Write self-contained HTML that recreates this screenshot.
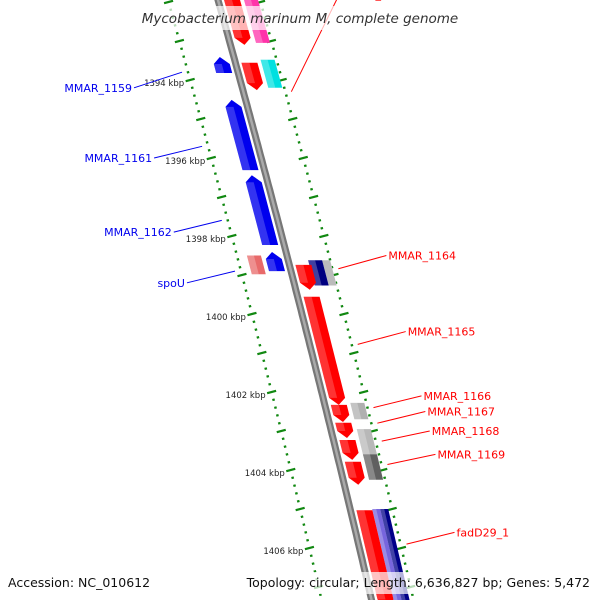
<!DOCTYPE html>
<html><head><meta charset="utf-8">
<style>
html,body{margin:0;padding:0;background:#fff;}
svg{display:block;font-family:"DejaVu Sans","Liberation Sans",sans-serif;}
</style></head>
<body>
<svg id="map" width="600" height="600" viewBox="0 0 600 600" xmlns="http://www.w3.org/2000/svg">
<g id="ticks"></g>
<g id="genes"></g>
<g id="backbone"></g>
<g id="labels"></g>
<rect x="130" y="6" width="340" height="24" fill="#fff" fill-opacity="0.7"/>
<text x="300" y="23" text-anchor="middle" font-size="13.5" font-style="italic" fill="#333">Mycobacterium marinum M, complete genome</text>
<rect x="0" y="572" width="600" height="22" fill="#fff" fill-opacity="0.7"/>
<text x="8" y="587" font-size="12.5" fill="#111">Accession: NC_010612</text>
<text x="590" y="587" text-anchor="end" font-size="12.5" fill="#111">Topology: circular; Length: 6,636,827 bp; Genes: 5,472</text>
</svg>
<script>
// data
const geneStarts = [1391.9, 1393.41, 1393.56, 1394.51, 1396.44, 1398.41, 1398.74, 1399.56, 1402.33, 1402.79, 1403.23, 1403.79, 1405.03];
const geneEnds   = [1393.10, 1393.82, 1394.26, 1396.31, 1398.23, 1398.90, 1399.38, 1402.33, 1402.77, 1403.18, 1403.74, 1404.38, 1407.5];
const geneStrands= [1, -1, 1, -1, -1, -1, 1, 1, 1, 1, 1, 1, 1];
const boxStarts  = [1391.9, 1393.48, 1398.50, 1398.62, 1402.28, 1402.95, 1403.6, 1405.0, 1405.0];
const boxEnds    = [1393.05, 1394.2, 1398.98, 1399.27, 1402.7, 1403.65, 1404.25, 1407.5, 1407.5];
const boxSides   = [1, 1, -1, 1, 1, 1, 1, 1, 1];
const boxColors  = ["#ff33aa", "#00e0e0", "#e86a6a", "#000080", "#b0b0b0", "#b8b8b8", "#606060", "#7766dd", "#000088"];
const tickLabelKbp = [1394, 1396, 1398, 1400, 1402, 1404, 1406];
const labelNames = ["MMAR_1159","MMAR_1161","MMAR_1162","spoU","MMAR_1160","MMAR_1164","MMAR_1165","MMAR_1166","MMAR_1167","MMAR_1168","MMAR_1169","fadD29_1"];
const labelSides = [-1,-1,-1,-1,1,1,1,1,1,1,1,1];
const labelTextKbp = [1394.2, 1396.0, 1397.9, 1399.2, 1391.8, 1398.5, 1400.45, 1402.1, 1402.5, 1403.0, 1403.6, 1405.6];
const labelFeatKbp = [1393.8, 1395.7, 1397.6, 1398.9, 1394.3, 1398.84, 1400.78, 1402.4, 1402.8, 1403.26, 1403.86, 1405.9];

const NS="http://www.w3.org/2000/svg";
function yOf(k){return 80+(k-1394)*39;}
function xOf(y){return 218+0.28*y-0.00004*y*y;}
function mk(tag,attrs,parent){const e=document.createElementNS(NS,tag);for(const a in attrs)e.setAttribute(a,attrs[a]);parent.appendChild(e);return e;}
function quad(k1,k2,o1,o2){const y1=yOf(k1),y2=yOf(k2);return [[xOf(y1)+o1,y1],[xOf(y1)+o2,y1],[xOf(y2)+o2,y2],[xOf(y2)+o1,y2]];}
function pts(a){return a.map(p=>p[0].toFixed(1)+","+p[1].toFixed(1)).join(" ");}

const tg=document.getElementById('ticks');
for(let k=1391.8;k<=1407.6;k+=0.2){
  const kr=Math.round(k*5)/5;
  const major=Math.abs(kr-Math.round(kr))<0.01;
  [[-50,-1],[42,1]].forEach(([off,s])=>{
    const y=yOf(kr),x=xOf(y)+off;
    const l=major?4.5:1.2;
    const t=mk('line',{x1:x-l,y1:y+l*0.27,x2:x+l,y2:y-l*0.27,stroke:'#118811','stroke-width':2.2},tg);
    
    
  });
}
tickLabelKbp.forEach(k=>{
  const y=yOf(k),x=xOf(y)-56;
  const t=mk('text',{x:x,y:y+6,'text-anchor':'end','font-size':8.5,fill:'#222'},tg);
  
  
  t.textContent=k+' kbp';
});

const gg=document.getElementById('genes');
boxStarts.forEach((s,i)=>{
  const side=boxSides[i];
  let o1=side>0?26:-40,o2=side>0?40:-26;
  if(i===3){o1=20;o2=34;} if(i===7){o1=22;o2=30;} if(i===8){o1=30;o2=38;}
  if(i===3){const g=mk('polygon',{points:pts(quad(s,boxEnds[i],34,42)),fill:'#bbbbbb'},gg);}
  const p=mk('polygon',{points:pts(quad(s,boxEnds[i],o1,o2)),fill:boxColors[i]},gg);
  
  
  const h=mk('polygon',{points:pts(quad(s,boxEnds[i],o1,(o1+o2)/2)),fill:'#fff','fill-opacity':0.25},gg);
  
  
});
geneStarts.forEach((s,i)=>{
  const e=geneEnds[i],st=geneStrands[i];
  const o1=st>0?6:-22,o2=st>0?22:-6;
  const col=st>0?'#ff0000':'#0000ee';
  const ah=7;
  let poly;
  if(st>0){
    const q=quad(s,e-ah/39,o1,o2);const yt=yOf(e);
    poly=[q[0],q[1],q[2],[xOf(yt)+(o1+o2)/2,yt],q[3]];
  } else {
    const q=quad(s+ah/39,e,o1,o2);const yt=yOf(s);
    poly=[q[0],[xOf(yt)+(o1+o2)/2,yt],q[1],q[2],q[3]];
  }
  const p=mk('polygon',{points:pts(poly),fill:col},gg);
  
  
  const h=mk('polygon',{points:pts(quad(st>0?s:s+ah/39,st>0?e-ah/39:e,o1,(o1+o2)/2)),fill:'#fff','fill-opacity':0.2},gg);
  
  
});

const bb=document.getElementById('backbone');
let d='';for(let y=-5;y<=605;y+=5){d+=(y===-5?'M':'L')+xOf(y).toFixed(1)+','+y;}
const b1=mk('path',{d:d,stroke:'#777',fill:'none','stroke-width':7},bb);


const b2=mk('path',{d:d,stroke:'#aaa',fill:'none','stroke-width':2.5},bb);



const lg=document.getElementById('labels');
labelNames.forEach((n,i)=>{
  const side=labelSides[i];
  const yf=yOf(labelFeatKbp[i]),yt=yOf(labelTextKbp[i]);
  const xf=xOf(yf)+(side>0?48:-56);
  const xt=side>0?xf+48:xf-48;
  const col=side>0?'#ff0000':'#0000ee';
  const l=mk('line',{x1:xf,y1:yf,x2:xt,y2:yt,stroke:col,'stroke-width':1},lg);
  
  
  const t=mk('text',{x:side>0?xt+2:xt-2,y:yt+4,'text-anchor':side>0?'start':'end','font-size':11,fill:col},lg);
  
  
  t.textContent=n;
});
</script>
</body></html>
